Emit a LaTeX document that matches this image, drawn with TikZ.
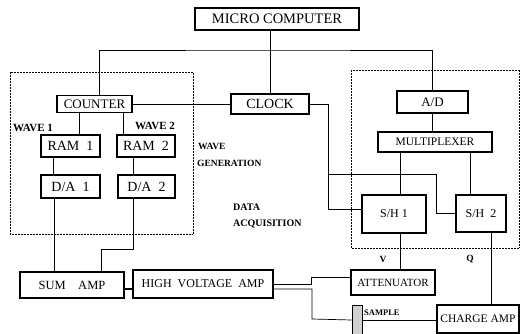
\documentclass[tikz,border=0pt]{standalone}
\usepackage{fontspec}
\setmainfont{Liberation Serif}
\begin{document}
\begin{tikzpicture}[x=1pt,y=-1pt,
    blok/.style={draw,line width=1.1pt,inner sep=0pt},
    lijn/.style={line width=0.7pt},
    kader/.style={draw,densely dotted,line width=0.5pt},
    lbl/.style={inner sep=0pt,font=\fontsize{9.5}{10}\selectfont\bfseries}]
    \useasboundingbox (0,0) rectangle (520,334);
    % kaders
    \draw[kader] (10,72) rectangle (193,234);
    \draw[kader] (351,70) rectangle (519,248);
    % blokken
    \node[blok,minimum width=164pt,minimum height=22pt,font=\fontsize{14.5}{16}\selectfont] (mc) at (277,19) {MICRO COMPUTER};
    \node[blok,minimum width=75pt,minimum height=17pt,font=\fontsize{13}{14}\selectfont] (counter) at (94.5,104) {COUNTER};
    \node[blok,minimum width=78pt,minimum height=20pt,font=\fontsize{14}{15}\selectfont] (clock) at (270,104) {CLOCK};
    \node[blok,minimum width=59pt,minimum height=22pt,font=\fontsize{14}{15}\selectfont] (ram1) at (70.5,146) {RAM\ \ 1};
    \node[blok,minimum width=58pt,minimum height=22pt,font=\fontsize{14}{15}\selectfont] (ram2) at (146,146) {RAM\ \ 2};
    \node[blok,minimum width=59pt,minimum height=23pt,font=\fontsize{14}{15}\selectfont] (da1) at (70.5,186.5) {D/A\ \ 1};
    \node[blok,minimum width=57pt,minimum height=23pt,font=\fontsize{14}{15}\selectfont] (da2) at (146.5,186.5) {D/A\ \ 2};
    \node[blok,minimum width=71pt,minimum height=22pt,font=\fontsize{13}{14}\selectfont] (ad) at (432.5,102) {A/D};
    \node[blok,minimum width=114pt,minimum height=20pt,font=\fontsize{11.5}{12}\selectfont] (mux) at (435,142) {MULTIPLEXER};
    \node[blok,minimum width=64pt,minimum height=38pt,font=\fontsize{12}{13}\selectfont] (sh1) at (394,214) {S/H 1};
    \node[blok,minimum width=50pt,minimum height=37pt,font=\fontsize{12}{13}\selectfont] (sh2) at (481,213.5) {S/H\ \ 2};
    \node[blok,minimum width=104pt,minimum height=26pt,font=\fontsize{12.5}{13}\selectfont] (sum) at (72,285) {SUM\quad AMP};
    \node[blok,minimum width=140pt,minimum height=28pt,font=\fontsize{12}{13}\selectfont] (hv) at (203,284) {HIGH\enspace VOLTAGE\enspace AMP};
    \node[blok,minimum width=84pt,minimum height=25pt,font=\fontsize{11}{12}\selectfont] (att) at (393,282.5) {ATTENUATOR};
    \node[blok,minimum width=82pt,minimum height=28pt,font=\fontsize{11.5}{12}\selectfont] (charge) at (478,319) {CHARGE AMP};
    \node[draw,line width=0.8pt,fill=black!18,inner sep=0pt,minimum width=10pt,minimum height=30pt] (sample) at (357,320) {};
    % teksten
    \node[lbl,font=\fontsize{11}{11}\selectfont\bfseries] (w1) at (33,128) {WAVE 1};
    \node[lbl,font=\fontsize{11}{11}\selectfont\bfseries] (w2) at (155,126) {WAVE 2};
    \node[lbl,anchor=west] (wg1) at (198,146) {WAVE};
    \node[lbl,anchor=west] (wg2) at (197,163) {GENERATION};
    \node[lbl,anchor=west,font=\fontsize{10}{10}\selectfont\bfseries] (da) at (233,207) {DATA};
    \node[lbl,anchor=west,font=\fontsize{10}{10}\selectfont\bfseries] (acq) at (233,224) {ACQUISITION};
    \node[lbl] (v) at (383,259) {V};
    \node[lbl] (q) at (470,259) {Q};
    \node[lbl,anchor=west,font=\fontsize{8.5}{8.5}\selectfont\bfseries] (smp) at (364,313) {SAMPLE};
    % verbindingen
    \coordinate (bus) at (270,50);
    \draw[lijn] (clock.north) -- (clock.north |- mc.south);
    \draw[lijn] ([xshift=4.5pt]counter.north) |- (bus) -| (ad.north);
    \draw[lijn] (counter.east) -- (clock.west);
    \draw[lijn] ([xshift=8.5pt]ram1.north) -- ([xshift=8.5pt]ram1.north |- counter.south);
    \draw[lijn] ([xshift=-23pt]ram2.north) -- ([xshift=-23pt]ram2.north |- counter.south);
    \draw[lijn] ([xshift=-17.5pt]ram1.south) -- ([xshift=-17.5pt]ram1.south |- da1.north);
    \draw[lijn] ([xshift=-13pt]ram2.south) -- ([xshift=-13pt]ram2.south |- da2.north);
    \draw[lijn] ([xshift=-16.5pt]da1.south) -- ([xshift=-16.5pt]da1.south |- sum.north);
    \coordinate (dj) at (101,249);
    \draw[lijn] ([xshift=-13.5pt]da2.south) |- (dj) -- (dj |- sum.north);
    \draw[line width=1.4pt] ([yshift=-4pt]sum.east) -- ([yshift=-4pt]sum.east -| hv.west);
    % klok naar S/H
    \coordinate (ckd) at (328,209);
    \coordinate (br) at (328,174);
    \coordinate (br2) at (436,174);
    \draw[lijn] (clock.east) -| (ckd) -- (ckd -| sh1.west);
    \draw[lijn] (br) -- (br2) |- (sh2.west);
    \draw[lijn] (ad.south) -- (ad.south |- mux.north);
    \draw[lijn] ([xshift=6pt]sh1.north) -- ([xshift=6pt]sh1.north |- mux.south);
    \draw[lijn] ([xshift=-11pt]sh2.north) -- ([xshift=-11pt]sh2.north |- mux.south);
    \draw[lijn] ([xshift=6pt]sh1.south) -- ([xshift=6pt]sh1.south |- att.north);
    \draw[lijn] ([xshift=10pt]sh2.south) -- ([xshift=10pt]sh2.south |- charge.north);
    % hoogspanning naar attenuator en sample
    \coordinate (hu) at (311,277);
    \coordinate (hl) at (312,319);
    \draw[lijn] (hv.east) -| (hu) -- (hu -| att.west);
    \draw[lijn] ([yshift=-5pt]hv.east) -| (hl) -- (sample.west);
    \draw[lijn] (sample.east) -- (sample.east -| charge.west);
\end{tikzpicture}
\end{document}
